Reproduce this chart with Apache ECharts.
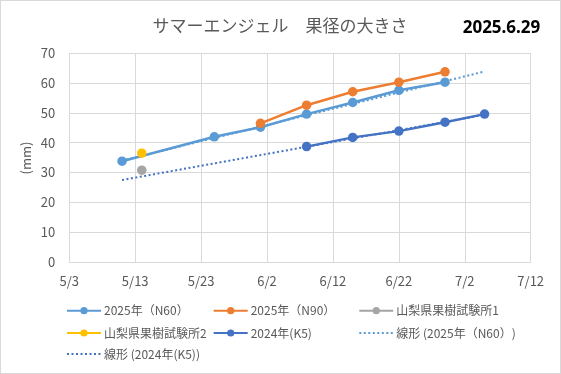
<!DOCTYPE html>
<html>
<head>
<meta charset="utf-8">
<script src="https://cdn.jsdelivr.net/npm/echarts@6/dist/echarts.min.js"></script>
<style>
html,body{margin:0;padding:0;background:#fff;}
#chart{width:561px;height:374px;box-sizing:border-box;border:1px solid #D9D9D9;}
</style>
</head>
<body>
<div id="chart"></div>
<script>
// ---- data ----
const titleText = 'サマーエンジェル　果径の大きさ';
const dateText = '2025.6.29';
const xTickLabels = ['5/3','5/13','5/23','6/2','6/12','6/22','7/2','7/12'];
const yName = '(mm)';

const n60Name = '2025年（N60）';
const n60Dates = ['5/11','5/25','6/1','6/8','6/15','6/22','6/29'];
const n60Values = [33.8, 42.0, 45.2, 49.6, 53.5, 57.6, 60.3];

const n90Name = '2025年（N90）';
const n90Dates = ['6/1','6/8','6/15','6/22','6/29'];
const n90Values = [46.5, 52.6, 57.1, 60.3, 63.8];

const lab1Name = '山梨県果樹試験所1';
const lab1Dates = ['5/14'];
const lab1Values = [30.8];

const lab2Name = '山梨県果樹試験所2';
const lab2Dates = ['5/14'];
const lab2Values = [36.5];

const k5Name = '2024年(K5)';
const k5Dates = ['6/8','6/15','6/22','6/29','7/5'];
const k5Values = [38.7, 41.8, 43.9, 46.9, 49.6];

const trendN60Name = '線形 (2025年（N60）)';
const trendN60Dates = ['5/11','7/5'];
const trendN60Values = [34.0, 63.9];

const trendK5Name = '線形 (2024年(K5))';
const trendK5Dates = ['5/11','7/5'];
const trendK5Values = [27.5, 49.4];

// ---- helpers ----
const BASE = Date.UTC(2025, 4, 3);
function dayOffset(s) {
  const [m, d] = s.split('/').map(Number);
  return (Date.UTC(2025, m - 1, d) - BASE) / 86400000;
}
function pts(dates, vals) { return dates.map((d, i) => [dayOffset(d), vals[i]]); }

const FONT = '"Noto Sans CJK JP", "Noto Sans", sans-serif';
const TXT = '#595959';

function lineSeries(name, dates, vals, color) {
  return {
    name, type: 'line', data: pts(dates, vals),
    symbol: 'circle', symbolSize: 9.5, showSymbol: true,
    lineStyle: { color, width: 2.5 }, itemStyle: { color },
    animation: false
  };
}
function trendSeries(name, dates, vals, color) {
  return {
    name, type: 'line', data: pts(dates, vals),
    symbol: 'none', z: 3,
    lineStyle: { color, width: 2, type: [2, 2.5] }, itemStyle: { color },
    animation: false
  };
}

const legendPos = [
  [n60Name, 65, 311.7, false], [n90Name, 211.7, 311.7, false], [lab1Name, 357.3, 311.7, false],
  [lab2Name, 65, 334, false], [k5Name, 211.7, 334, false], [trendN60Name, 357.3, 334, true],
  [trendK5Name, 65, 355, true]
];

const chart = echarts.init(document.getElementById('chart'), null, { renderer: 'canvas' });
chart.setOption({
  animation: false,
  textStyle: { fontFamily: FONT },
  grid: { left: 68.3, right: 29.3, top: 52.3, bottom: 111, containLabel: false },
  xAxis: {
    type: 'value', min: 0, max: 70, interval: 10,
    axisLine: { show: false }, axisTick: { show: false },
    splitLine: { show: true, lineStyle: { color: '#D9D9D9', width: 1 } },
    axisLabel: { color: TXT, fontSize: 13, fontFamily: FONT, margin: 13,
      formatter: v => xTickLabels[Math.round(v / 10)] }
  },
  yAxis: {
    type: 'value', min: 0, max: 70, interval: 10,
    axisLine: { show: false }, axisTick: { show: false },
    splitLine: { show: true, lineStyle: { color: '#D9D9D9', width: 1 } },
    axisLabel: { color: TXT, fontSize: 13, fontFamily: FONT, margin: 14 }
  },
  legend: legendPos.map(([name, x, y, isTrend]) => {
    const l = {
      data: [name], left: x, top: y - 8, padding: 0, itemGap: 0,
      itemWidth: 34, itemHeight: 9,
      textStyle: { color: TXT, fontSize: 12, fontFamily: FONT, padding: [0, 0, 0, -2] }
    };
    if (isTrend) l.itemStyle = { opacity: 0 };
    return l;
  }),
  graphic: [
    { type: 'text', x: 279, y: 25, style: { text: titleText, fill: TXT, font: '17px ' + FONT, align: 'center', verticalAlign: 'middle' } },
    { type: 'text', x: 500.5, y: 27, style: { text: dateText, fill: '#000', font: 'bold 17px "Noto Sans", sans-serif', align: 'center', verticalAlign: 'middle' } },
    { type: 'text', x: 25, y: 157, rotation: Math.PI / 2, style: { text: yName, fill: TXT, font: '13px ' + FONT, align: 'center', verticalAlign: 'middle' } }
  ],
  series: [
    lineSeries(n60Name, n60Dates, n60Values, '#5B9BD5'),
    lineSeries(n90Name, n90Dates, n90Values, '#ED7D31'),
    lineSeries(lab1Name, lab1Dates, lab1Values, '#A5A5A5'),
    lineSeries(lab2Name, lab2Dates, lab2Values, '#FFC000'),
    lineSeries(k5Name, k5Dates, k5Values, '#4472C4'),
    trendSeries(trendN60Name, trendN60Dates, trendN60Values, '#5B9BD5'),
    trendSeries(trendK5Name, trendK5Dates, trendK5Values, '#4472C4')
  ]
});
</script>
</body>
</html>
